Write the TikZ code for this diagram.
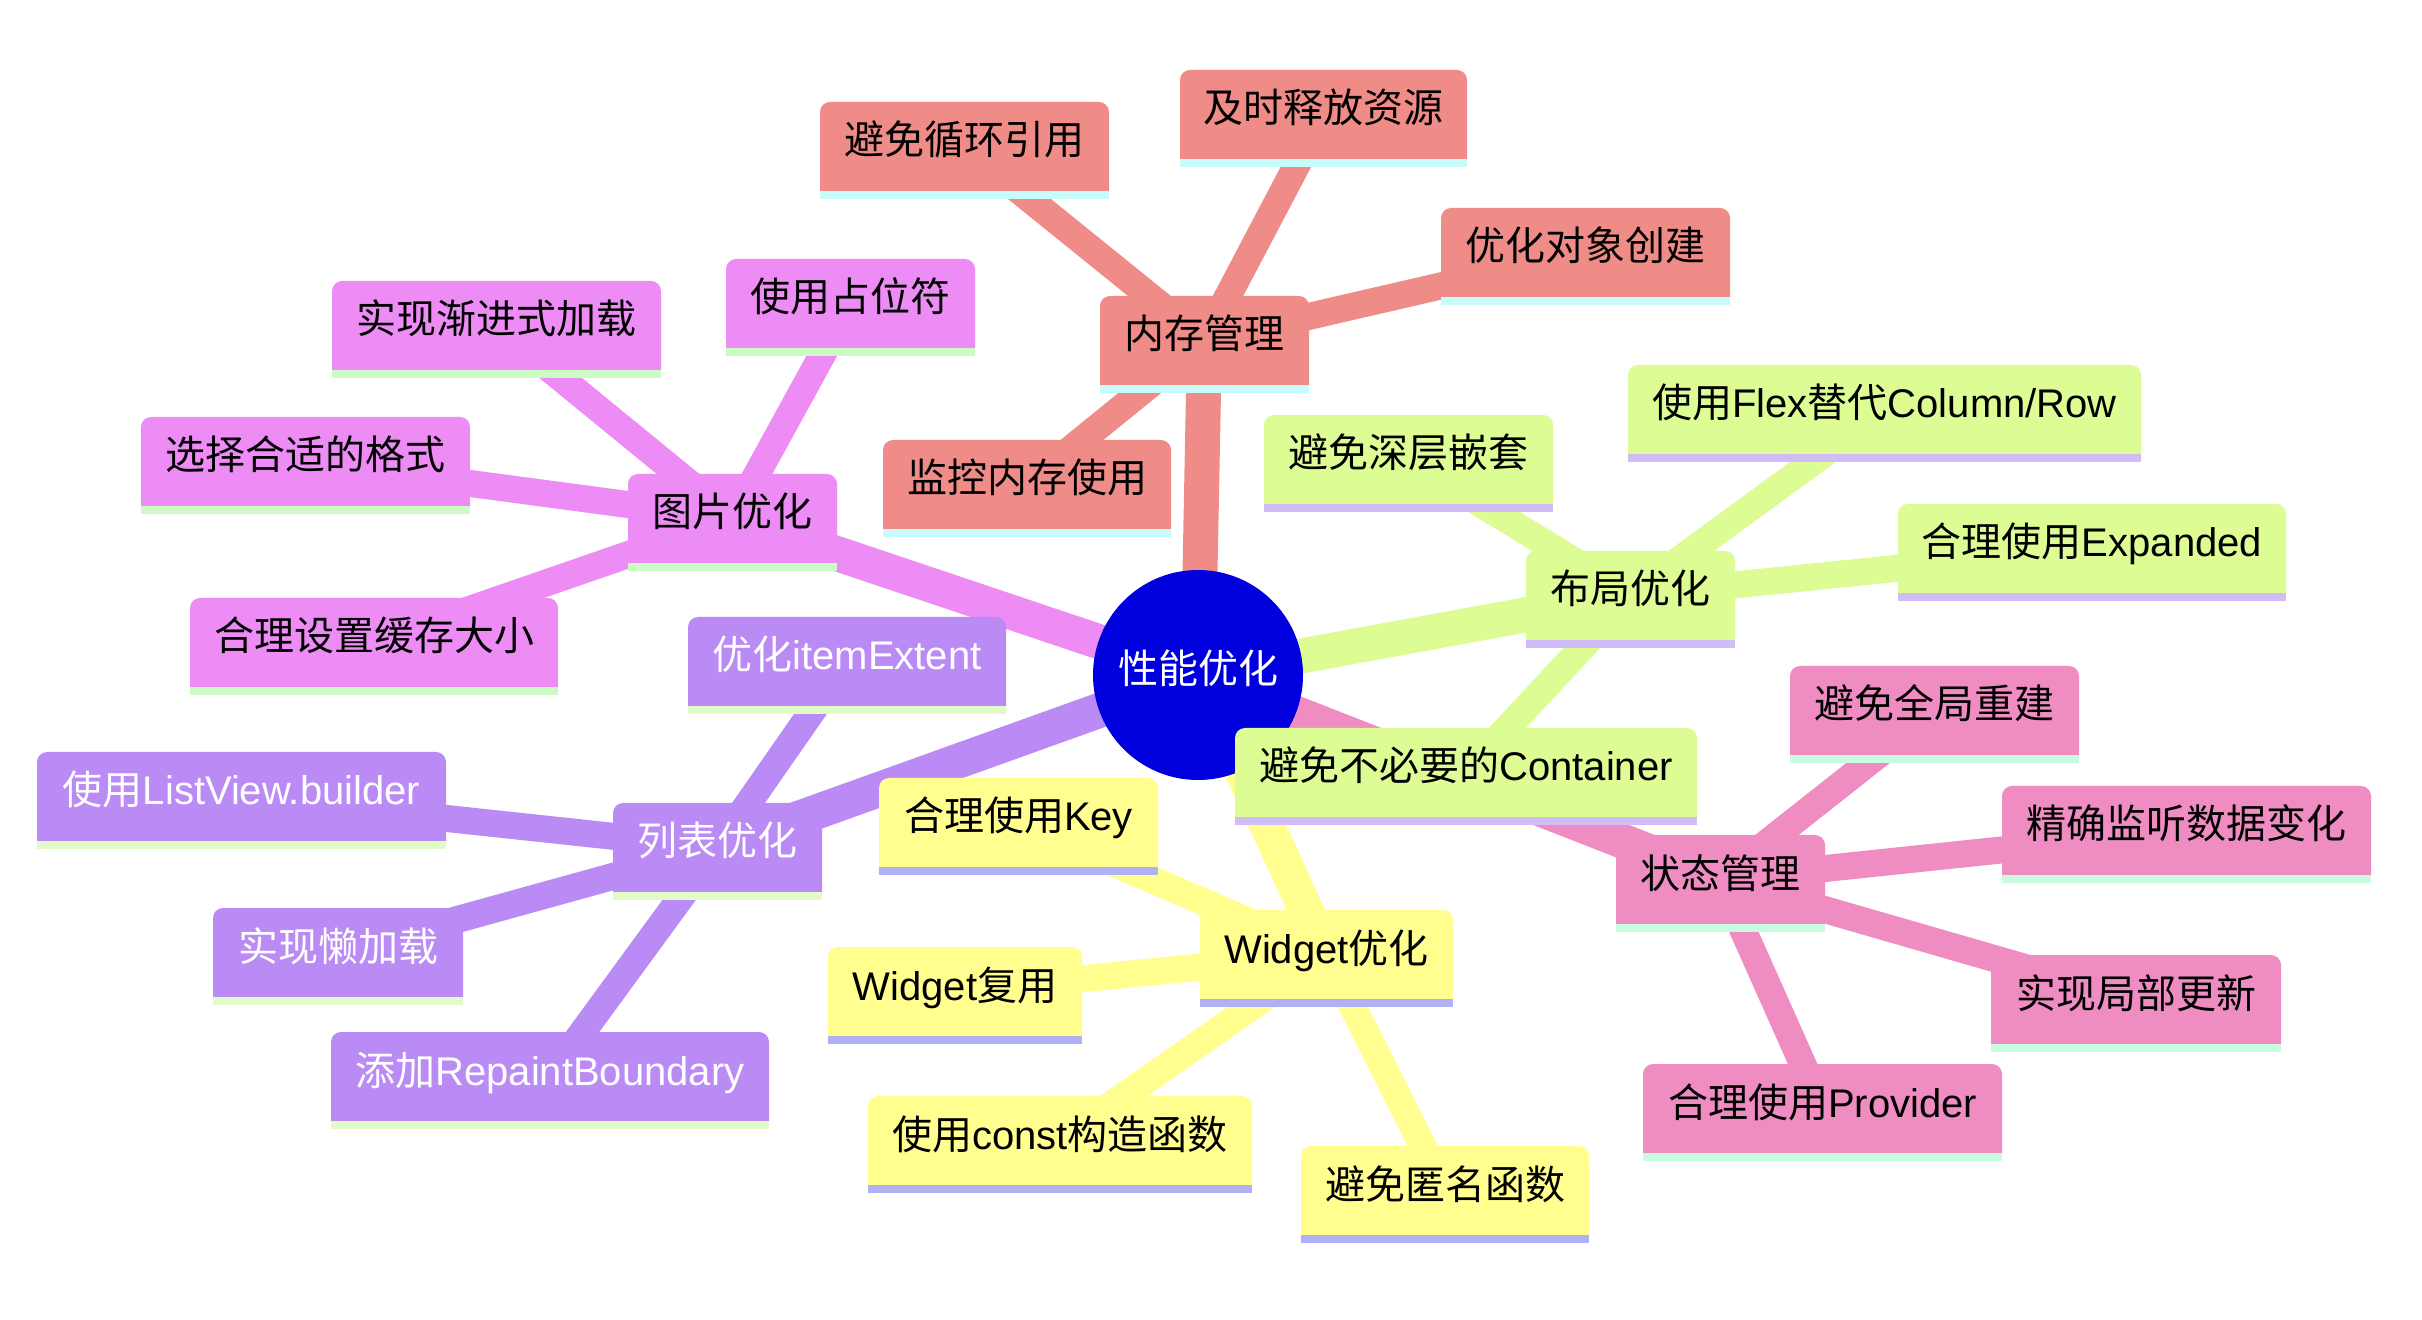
\documentclass[tikz,border=0pt]{standalone}
\usepackage{fontspec}
\setmainfont{Liberation Sans}
\newfontfamily\cjkfont{Noto Sans CJK SC}
\newcommand\zhs[1]{{\cjkfont #1}}
\pgfdeclarelayer{edges}
\pgfdeclarelayer{boxes}
\pgfsetlayers{edges,boxes,main}
\definecolor{rootblue}{RGB}{0,0,222}
\definecolor{memc}{RGB}{240,140,136}
\definecolor{mems}{RGB}{200,252,250}
\definecolor{imgc}{RGB}{238,140,246}
\definecolor{imgs}{RGB}{204,252,196}
\definecolor{lstc}{RGB}{186,139,245}
\definecolor{lsts}{RGB}{226,252,200}
\definecolor{widc}{RGB}{255,254,143}
\definecolor{wids}{RGB}{176,176,245}
\definecolor{layc}{RGB}{222,252,148}
\definecolor{lays}{RGB}{208,188,246}
\definecolor{stc}{RGB}{239,141,194}
\definecolor{sts}{RGB}{200,252,224}
\tikzset{
  mmtext/.style={inner sep=0pt, outer sep=0pt, font=\fontsize{20pt}{24pt}\selectfont,
    text height=12pt, text depth=3.5pt, anchor=center},
  rootedge/.style={line width=17.5pt},
  leafedge/.style={line width=13.5pt},
}
% name, left, top, right, fill, strip, text colour, text
\newcommand\mmbox[8]{%
  \node[mmtext, text=#7, minimum width={(#4-#2)*0.5pt}, minimum height=44.5pt]
    (#1) at ({(#2+#4)/2},{#3+44.5}) {#8};
  \begin{pgfonlayer}{boxes}
    \fill[#5] (#1.south west) -- ([yshift=-5pt]#1.north west)
      arc[start angle=180,end angle=90,radius=5pt] -- ([xshift=-5pt]#1.north east)
      arc[start angle=90,end angle=0,radius=5pt] -- (#1.south east) -- cycle;
    \fill[#6] (#1.south west) rectangle ([yshift=-4pt]#1.south east);
  \end{pgfonlayer}
}
\begin{document}
\begin{tikzpicture}[x=0.5pt,y=-0.5pt]
\begin{pgfonlayer}{edges}
  \fill[white] (0,0) rectangle (2422,1320);
\end{pgfonlayer}
\useasboundingbox (0,0) rectangle (2422,1320);
% root
\node[mmtext, text=white] (root) at (1198,675) {\zhs{性能优化}};
\begin{pgfonlayer}{boxes}
  \fill[rootblue] (root.center) circle[radius=52.5pt];
\end{pgfonlayer}
% memory
\mmbox{mem}{1100}{296}{1309}{memc}{mems}{black}{\zhs{内存管理}}
\mmbox{m1}{820}{102}{1109}{memc}{mems}{black}{\zhs{避免循环引用}}
\mmbox{m2}{1180}{70}{1467}{memc}{mems}{black}{\zhs{及时释放资源}}
\mmbox{m3}{1441}{208}{1730}{memc}{mems}{black}{\zhs{优化对象创建}}
\mmbox{m4}{883}{440}{1171}{memc}{mems}{black}{\zhs{监控内存使用}}
% image
\mmbox{img}{628}{474}{837}{imgc}{imgs}{black}{\zhs{图片优化}}
\mmbox{i1}{332}{281}{661}{imgc}{imgs}{black}{\zhs{实现渐进式加载}}
\mmbox{i2}{726}{259}{975}{imgc}{imgs}{black}{\zhs{使用占位符}}
\mmbox{i3}{141}{417}{470}{imgc}{imgs}{black}{\zhs{选择合适的格式}}
\mmbox{i4}{190}{598}{558}{imgc}{imgs}{black}{\zhs{合理设置缓存大小}}
% list
\mmbox{lst}{613}{803}{822}{lstc}{lsts}{white}{\zhs{列表优化}}
\mmbox{l1}{688}{617}{1006}{lstc}{lsts}{white}{\zhs{优化}itemExtent}
\mmbox{l2}{37}{752}{446}{lstc}{lsts}{white}{\zhs{使用}ListView.builder}
\mmbox{l3}{213}{908}{463}{lstc}{lsts}{white}{\zhs{实现懒加载}}
\mmbox{l4}{331}{1032}{769}{lstc}{lsts}{white}{\zhs{添加}RepaintBoundary}
% widget
\mmbox{wid}{1200}{910}{1453}{widc}{wids}{black}{Widget\zhs{优化}}
\mmbox{w1}{879}{778}{1158}{widc}{wids}{black}{\zhs{合理使用}Key}
\mmbox{w2}{828}{947}{1082}{widc}{wids}{black}{Widget\zhs{复用}}
\mmbox{w3}{868}{1096}{1252}{widc}{wids}{black}{\zhs{使用}const\zhs{构造函数}}
\mmbox{w4}{1301}{1146}{1589}{widc}{wids}{black}{\zhs{避免匿名函数}}
% layout
\mmbox{lay}{1526}{551}{1735}{layc}{lays}{black}{\zhs{布局优化}}
\mmbox{y1}{1264}{415}{1553}{layc}{lays}{black}{\zhs{避免深层嵌套}}
\mmbox{y2}{1628}{365}{2141}{layc}{lays}{black}{\zhs{使用}Flex\zhs{替代}Column/Row}
\mmbox{y3}{1898}{504}{2286}{layc}{lays}{black}{\zhs{合理使用}Expanded}
\mmbox{y4}{1235}{728}{1697}{layc}{lays}{black}{\zhs{避免不必要的}Container}
% state
\mmbox{st}{1616}{835}{1825}{stc}{sts}{black}{\zhs{状态管理}}
\mmbox{s1}{1790}{666}{2079}{stc}{sts}{black}{\zhs{避免全局重建}}
\mmbox{s2}{2002}{786}{2371}{stc}{sts}{black}{\zhs{精确监听数据变化}}
\mmbox{s3}{1991}{955}{2281}{stc}{sts}{black}{\zhs{实现局部更新}}
\mmbox{s4}{1643}{1064}{2002}{stc}{sts}{black}{\zhs{合理使用}Provider}
% edges
\begin{pgfonlayer}{edges}
  \draw[rootedge, memc] (root.center) -- (mem.center);
  \draw[rootedge, imgc] (root.center) -- (img.center);
  \draw[rootedge, lstc] (root.center) -- (lst.center);
  \draw[rootedge, widc] (root.center) -- (wid.center);
  \draw[rootedge, layc] (root.center) -- (lay.center);
  \draw[rootedge, stc] (root.center) -- (st.center);
  \foreach \c in {m1,m2,m3,m4} \draw[leafedge, memc] (mem.center) -- (\c.center);
  \foreach \c in {i1,i2,i3,i4} \draw[leafedge, imgc] (img.center) -- (\c.center);
  \foreach \c in {l1,l2,l3,l4} \draw[leafedge, lstc] (lst.center) -- (\c.center);
  \foreach \c in {w1,w2,w3,w4} \draw[leafedge, widc] (wid.center) -- (\c.center);
  \foreach \c in {y1,y2,y3,y4} \draw[leafedge, layc] (lay.center) -- (\c.center);
  \foreach \c in {s1,s2,s3,s4} \draw[leafedge, stc] (st.center) -- (\c.center);
\end{pgfonlayer}
\end{tikzpicture}
\end{document}
